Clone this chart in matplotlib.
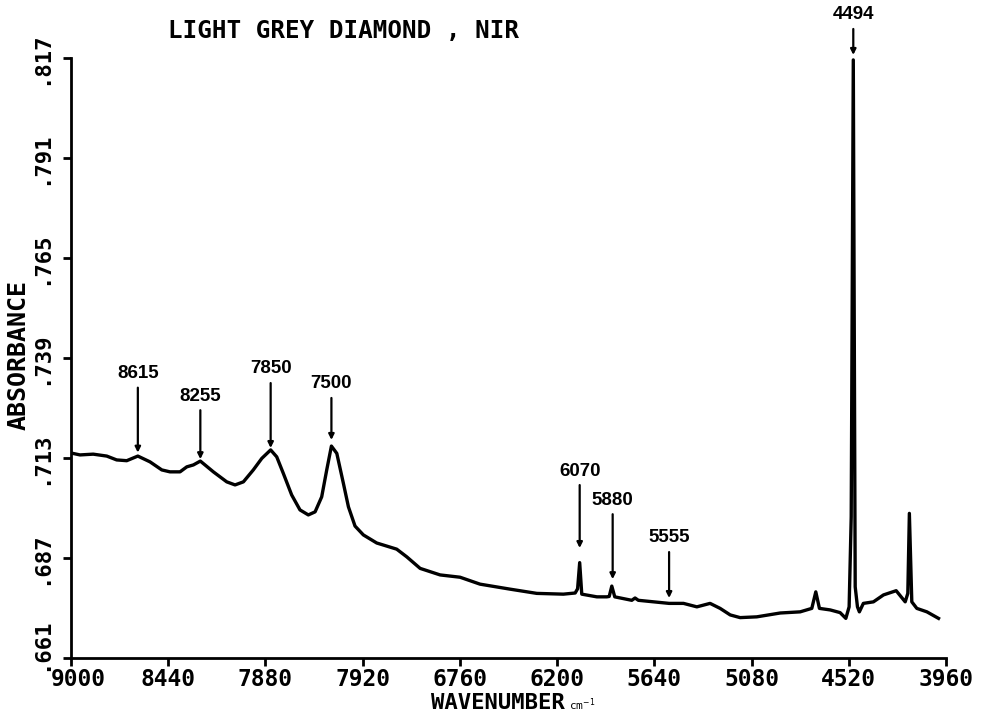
import numpy as np
import matplotlib
matplotlib.use("Agg")
import matplotlib.pyplot as plt
import matplotlib.transforms as mtransforms

# spectrum (wavenumber cm-1, absorbance)
wavenumber = [9000, 8948, 8872, 8794, 8737, 8679, 8615, 8545, 8477, 8430,
              8372, 8333, 8295, 8255, 8180, 8103, 8055, 8007, 7950, 7901,
              7850, 7815, 7777, 7729, 7681, 7633, 7594, 7556, 7527, 7500,
              7469, 7431, 7402, 7364, 7316, 7239, 7124, 7066, 6989, 6874,
              6759, 6644, 6471, 6317, 6164, 6096, 6082, 6070, 6058, 5971,
              5914, 5900, 5885, 5868, 5770, 5751, 5732, 5555, 5472, 5395,
              5319, 5261, 5203, 5146, 5050, 4915, 4800, 4733, 4710, 4689,
              4627, 4570, 4537, 4518, 4506, 4494, 4483, 4470, 4459, 4436,
              4378, 4320, 4247, 4195, 4180, 4171, 4157, 4128, 4070, 4003]
absorbance = [0.7143, 0.7138, 0.7140, 0.7135, 0.7125, 0.7123, 0.7135, 0.7120, 0.7099, 0.7094,
              0.7094, 0.7107, 0.7112, 0.7122, 0.7094, 0.7068, 0.7060, 0.7068, 0.7099, 0.7129,
              0.7151, 0.7133, 0.7090, 0.7034, 0.6995, 0.6982, 0.6990, 0.7029, 0.7099, 0.7161,
              0.7142, 0.7064, 0.7003, 0.6953, 0.6930, 0.6909, 0.6893, 0.6873, 0.6843, 0.6826,
              0.6820, 0.6802, 0.6789, 0.6778, 0.6776, 0.6779, 0.6790, 0.6858, 0.6776, 0.6769,
              0.6769, 0.6770, 0.6797, 0.6769, 0.6760, 0.6766, 0.6760, 0.6752, 0.6752, 0.6743,
              0.6752, 0.6739, 0.6722, 0.6715, 0.6717, 0.6727, 0.6730, 0.6739, 0.6782, 0.6739,
              0.6735, 0.6728, 0.6713, 0.6743, 0.6977, 0.8165, 0.6795, 0.6743, 0.6730, 0.6752,
              0.6756, 0.6774, 0.6785, 0.6756, 0.6778, 0.6986, 0.6756, 0.6739, 0.6730, 0.6713]

peak_labels = ["8615", "8255", "7850", "7500", "6070", "5880", "5555", "4494"]
peak_wn = [8615, 8255, 7850, 7500, 6070, 5880, 5555, 4494]
peak_tip = [0.7144, 0.7127, 0.7156, 0.7177, 0.6896, 0.6815, 0.6766, 0.8178]
label_rise = [79, 63, 79, 56, 77, 79, 60, 40]  # pixels above arrow tip

x_ticks = [9000, 8440, 7880, 7320, 6760, 6200, 5640, 5080, 4520, 3960]
x_ticklabels = ["9000", "8440", "7880", "7920", "6760", "6200", "5640", "5080", "4520", "3960"]
y_ticks = [0.661, 0.687, 0.713, 0.739, 0.765, 0.791, 0.817]
y_ticklabels = [".661", ".687", ".713", ".739", ".765", ".791", ".817"]

plotter = dict(family="DejaVu Sans Mono", weight="bold")

fig = plt.figure(figsize=(9.89, 7.14), dpi=100)
ax = fig.add_axes([71 / 989, 1 - 658 / 714, 875 / 989, 600 / 714])

ax.plot(wavenumber, absorbance, color="black", lw=2.4, solid_joinstyle="round")

ax.set_xlim(9000, 3960)
ax.set_ylim(0.661, 0.817)

for s in ["top", "right"]:
    ax.spines[s].set_visible(False)
for s in ["left", "bottom"]:
    ax.spines[s].set_linewidth(2)

ax.set_xticks(x_ticks)
ax.set_xticklabels(x_ticklabels, fontsize=16.5, **plotter)
ax.set_yticks(y_ticks)
ax.set_yticklabels(y_ticklabels, fontsize=16, rotation=90, va="center", **plotter)
ax.tick_params(axis="x", direction="out", length=6, width=2, pad=1)
ax.tick_params(axis="y", direction="out", length=6, width=2, pad=8)

# the corner labels sit apart on the plot: nudge them like the original
first_x = ax.get_xticklabels()[0]
first_x.set_transform(first_x.get_transform() +
                      mtransforms.ScaledTranslation(7 / 100, 0, fig.dpi_scale_trans))
first_y = ax.get_yticklabels()[0]
first_y.set_transform(first_y.get_transform() +
                      mtransforms.ScaledTranslation(0, 14 / 100, fig.dpi_scale_trans))

fig.text(498 / 989, 1 - 703 / 714, "WAVENUMBER", ha="center", va="center",
         fontsize=16, **plotter)
fig.text(569 / 989, 1 - 705 / 714, "cm$^{-1}$", ha="left", va="center",
         fontsize=8, family="DejaVu Sans Mono")
fig.text(19 / 989, 1 - 355 / 714, "ABSORBANCE", ha="center", va="center",
         rotation=90, fontsize=18, **plotter)
fig.text(168 / 989, 1 - 31 / 714, "LIGHT GREY DIAMOND , NIR", ha="left", va="center",
         fontsize=17.5, **plotter)

for lab, wn, tip, rise in zip(peak_labels, peak_wn, peak_tip, label_rise):
    ax.annotate(lab, xy=(wn, tip), xytext=(0, rise), textcoords="offset pixels",
                ha="center", va="center", fontsize=13.5, fontweight="bold",
                family="Liberation Sans", annotation_clip=False,
                arrowprops=dict(arrowstyle="-|>", color="black", lw=1.6,
                                mutation_scale=8, shrinkA=2, shrinkB=0))

fig.savefig("out.png", dpi=100, facecolor="white")
